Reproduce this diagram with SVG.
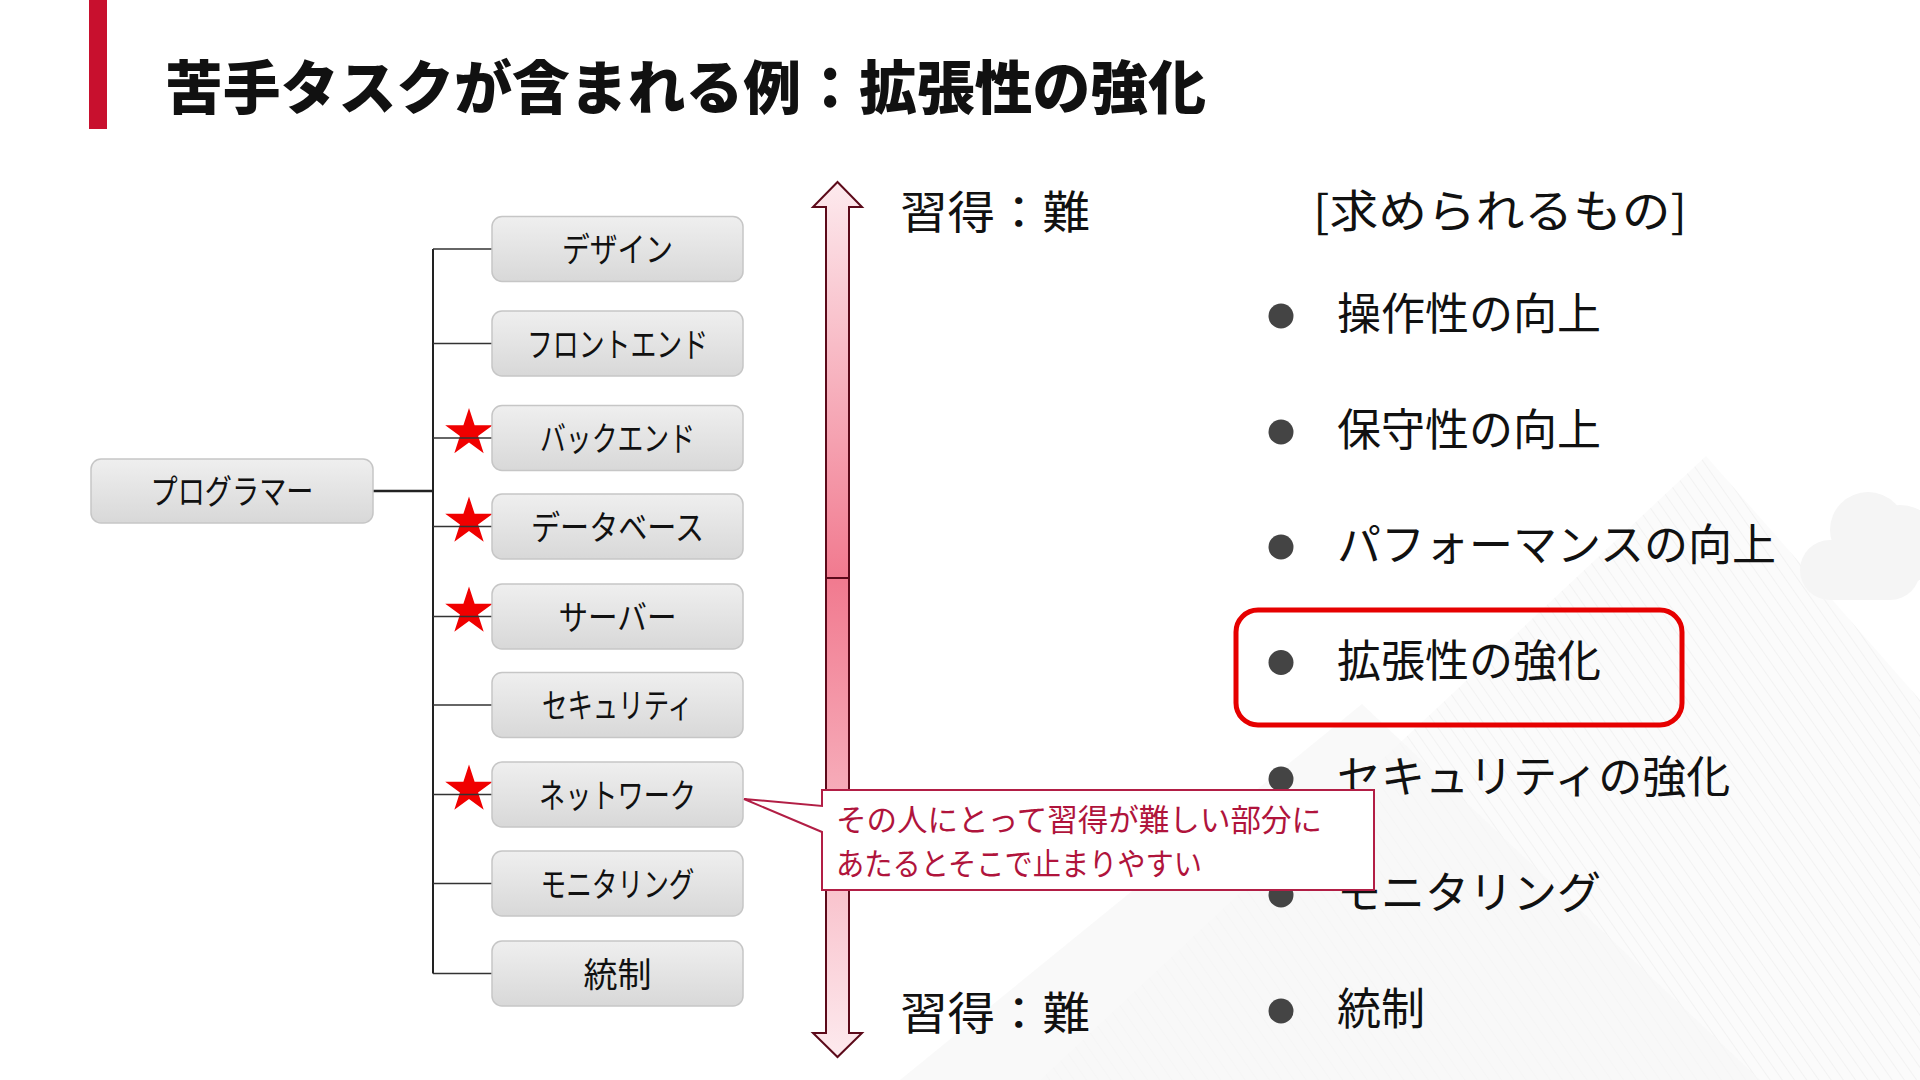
<svg xmlns="http://www.w3.org/2000/svg" width="1920" height="1080" viewBox="0 0 1920 1080">
<style>
.jp{font-family:"Noto Sans CJK JP","Noto Sans CJK SC",sans-serif}
.box{fill:url(#gbox);stroke:#c6c6c6;stroke-width:1.5}
.lbl{font-size:34px;fill:#111;text-anchor:middle}
.item{font-size:44px;fill:#111}
.dot{fill:#444}
.br{stroke:#333;stroke-width:1.5;fill:none}
.star{fill:#f00000}
</style>
<defs>
<linearGradient id="gbox" x1="0" y1="0" x2="0" y2="1">
<stop offset="0" stop-color="#efefef"/><stop offset="1" stop-color="#d8d8d8"/>
</linearGradient>
<linearGradient id="gup" x1="0" y1="0" x2="0" y2="1">
<stop offset="0" stop-color="#fdeaee"/><stop offset="1" stop-color="#f17a8f"/>
</linearGradient>
<linearGradient id="gdn" x1="0" y1="0" x2="0" y2="1">
<stop offset="0" stop-color="#f17a8f"/><stop offset="1" stop-color="#fdeaee"/>
</linearGradient>
<pattern id="hatch" width="10" height="10" patternUnits="userSpaceOnUse" patternTransform="rotate(-35)">
<rect width="10" height="10" fill="#fbfbfb"/>
<line x1="0" y1="0" x2="0" y2="10" stroke="#f2f2f2" stroke-width="2"/>
</pattern>
<path id="starp" d="M0,-25 L5.61,-7.73 L23.78,-7.73 L9.08,2.95 L14.69,20.23 L0,9.55 L-14.69,20.23 L-9.08,2.95 L-23.78,-7.73 L-5.61,-7.73 Z"/>
</defs>
<rect width="1920" height="1080" fill="#ffffff"/>
<g id="background">
<polygon points="1706,456 1040,1080 1920,1080 1920,700" fill="url(#hatch)"/>
<polygon points="1362,704 900,1080 1760,1080" fill="#f7f7f7" opacity="0.7"/>
<g fill="#f5f5f5">
<circle cx="1868" cy="530" r="38"/>
<circle cx="1900" cy="545" r="40"/>
<rect x="1800" y="540" width="120" height="60" rx="30"/>
</g>
</g>
<g id="title">
<rect x="89" y="0" width="18" height="129" fill="#c8102e"/>
<text class="jp" x="165" y="109" font-size="58" font-weight="900" fill="#111" textLength="1041" lengthAdjust="spacingAndGlyphs">苦手タスクが含まれる例：拡張性の強化</text>
</g>
<g id="stars">
<use href="#starp" class="star" x="469" y="433"/>
<use href="#starp" class="star" x="469" y="521.5"/>
<use href="#starp" class="star" x="469" y="611.5"/>
<use href="#starp" class="star" x="469" y="789.5"/>
</g>
<g id="connectors">
<line x1="373" y1="491" x2="433" y2="491" stroke="#222" stroke-width="2.5"/>
<line x1="433" y1="249" x2="433" y2="973.5" stroke="#222" stroke-width="2"/>
<line class="br" x1="433" y1="249" x2="492" y2="249"/>
<line class="br" x1="433" y1="343.5" x2="492" y2="343.5"/>
<line class="br" x1="433" y1="438" x2="492" y2="438"/>
<line class="br" x1="433" y1="526.5" x2="492" y2="526.5"/>
<line class="br" x1="433" y1="616.5" x2="492" y2="616.5"/>
<line class="br" x1="433" y1="705" x2="492" y2="705"/>
<line class="br" x1="433" y1="794.5" x2="492" y2="794.5"/>
<line class="br" x1="433" y1="883.5" x2="492" y2="883.5"/>
<line class="br" x1="433" y1="973.5" x2="492" y2="973.5"/>
</g>
<g id="programmer">
<rect class="box" x="91" y="459" width="282" height="64" rx="10"/>
<text class="jp lbl" x="232" y="504" textLength="163" lengthAdjust="spacingAndGlyphs">プログラマー</text>
</g>
<g id="design">
<rect class="box" x="492" y="216.5" width="251" height="65" rx="10"/>
<text class="jp lbl" x="617.5" y="262" textLength="111" lengthAdjust="spacingAndGlyphs">デザイン</text>
</g>
<g id="frontend">
<rect class="box" x="492" y="311" width="251" height="65" rx="10"/>
<text class="jp lbl" x="617.5" y="356.5" textLength="181" lengthAdjust="spacingAndGlyphs">フロントエンド</text>
</g>
<g id="backend">
<rect class="box" x="492" y="405.5" width="251" height="65" rx="10"/>
<text class="jp lbl" x="617.5" y="451" textLength="155" lengthAdjust="spacingAndGlyphs">バックエンド</text>
</g>
<g id="database">
<rect class="box" x="492" y="494" width="251" height="65" rx="10"/>
<text class="jp lbl" x="617.5" y="539.5" textLength="173" lengthAdjust="spacingAndGlyphs">データベース</text>
</g>
<g id="server">
<rect class="box" x="492" y="584" width="251" height="65" rx="10"/>
<text class="jp lbl" x="617.5" y="629.5" textLength="118" lengthAdjust="spacingAndGlyphs">サーバー</text>
</g>
<g id="security">
<rect class="box" x="492" y="672.5" width="251" height="65" rx="10"/>
<text class="jp lbl" x="617.5" y="718" textLength="151" lengthAdjust="spacingAndGlyphs">セキュリティ</text>
</g>
<g id="network">
<rect class="box" x="492" y="762" width="251" height="65" rx="10"/>
<text class="jp lbl" x="617.5" y="807.5" textLength="157" lengthAdjust="spacingAndGlyphs">ネットワーク</text>
</g>
<g id="monitoring">
<rect class="box" x="492" y="851" width="251" height="65" rx="10"/>
<text class="jp lbl" x="617.5" y="896.5" textLength="154" lengthAdjust="spacingAndGlyphs">モニタリング</text>
</g>
<g id="control">
<rect class="box" x="492" y="941" width="251" height="65" rx="10"/>
<text class="jp lbl" x="617.5" y="986.5" textLength="68" lengthAdjust="spacingAndGlyphs">統制</text>
</g>
<g id="difficulty-arrow">
<polygon points="826,578 826,207 813,207 837.5,182 862,207 849,207 849,578" fill="url(#gup)" stroke="#5c0a1a" stroke-width="2" stroke-linejoin="miter"/>
<polygon points="826,578 826,1033 813,1033 837.5,1057 862,1033 849,1033 849,578" fill="url(#gdn)" stroke="#5c0a1a" stroke-width="2" stroke-linejoin="miter"/>
<text class="jp" x="900" y="229" font-size="45" fill="#111" textLength="190" lengthAdjust="spacingAndGlyphs">習得：難</text>
<text class="jp" x="900" y="1030" font-size="45" fill="#111" textLength="190" lengthAdjust="spacingAndGlyphs">習得：難</text>
</g>
<g id="requirements">
<text class="jp" x="1313" y="228" font-size="45" fill="#111" textLength="374" lengthAdjust="spacingAndGlyphs">[求められるもの]</text>
<circle class="dot" cx="1281" cy="316" r="12.5"/>
<text class="jp item" x="1337" y="330">操作性の向上</text>
<circle class="dot" cx="1281" cy="432" r="12.5"/>
<text class="jp item" x="1337" y="446">保守性の向上</text>
<circle class="dot" cx="1281" cy="547" r="12.5"/>
<text class="jp item" x="1337" y="561">パフォーマンスの向上</text>
<circle class="dot" cx="1281" cy="662.5" r="12.5"/>
<text class="jp item" x="1337" y="676.5">拡張性の強化</text>
<circle class="dot" cx="1281" cy="779" r="12.5"/>
<text class="jp item" x="1337" y="793">セキュリティの強化</text>
<circle class="dot" cx="1281" cy="895" r="12.5"/>
<text class="jp item" x="1337" y="909">モニタリング</text>
<circle class="dot" cx="1281" cy="1011" r="12.5"/>
<text class="jp item" x="1337" y="1025">統制</text>
<rect x="1236" y="610" width="446" height="115" rx="22" fill="none" stroke="#e60000" stroke-width="5"/>
</g>
<g id="callout">
<path d="M822,790 H1374 V890 H822 V832 L744,799 L822,806 Z" fill="#ffffff" stroke="#b21e45" stroke-width="2" stroke-linejoin="miter"/>
<text class="jp" x="836" y="831" font-size="31" fill="#b0143c" textLength="486" lengthAdjust="spacingAndGlyphs">その人にとって習得が難しい部分に</text>
<text class="jp" x="836" y="875" font-size="31" fill="#b0143c" textLength="366" lengthAdjust="spacingAndGlyphs">あたるとそこで止まりやすい</text>
</g>
</svg>
